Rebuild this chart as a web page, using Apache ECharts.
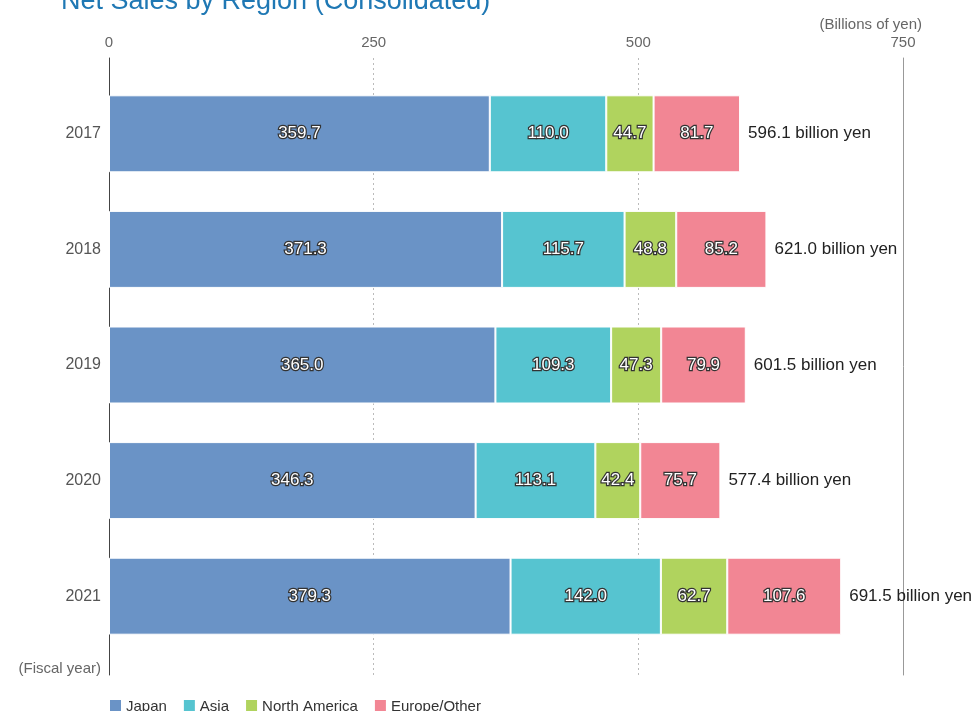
<!DOCTYPE html>
<html>
<head>
<meta charset="utf-8">
<script src="https://cdn.jsdelivr.net/npm/echarts@6/dist/echarts.min.js"></script>
<style>
html, body { margin: 0; padding: 0; background: #fff; }
#main { width: 979px; height: 711px; }
</style>
</head>
<body>
<div id="main"></div>
<script>
// data
var years = ['2017', '2018', '2019', '2020', '2021'];
var japan = [359.7, 371.3, 365.0, 346.3, 379.3];
var asia = [110.0, 115.7, 109.3, 113.1, 142.0];
var northAmerica = [44.7, 48.8, 47.3, 42.4, 62.7];
var europeOther = [81.7, 85.2, 79.9, 75.7, 107.6];
var totals = [596.1, 621.0, 601.5, 577.4, 691.5];
var xTicks = [0, 250, 500, 750];

var myChart = echarts.init(document.getElementById('main'));
var font = 'Liberation Sans';

var inLabel = {
	show: true,
	position: 'inside',
	color: '#fff',
	fontSize: 17,
	fontFamily: font,
	textBorderColor: '#333',
	textBorderWidth: 2.5,
	formatter: function(p) { return p.value.toFixed(1); }
};

function seg(name, data, color) {
	return {
		name: name,
		type: 'bar',
		stack: 'total',
		xAxisIndex: 1,
		yAxisIndex: 2,
		barWidth: 77,
		data: data,
		itemStyle: { color: color, borderColor: '#fff', borderWidth: 1 },
		label: inLabel
	};
}

var option = {
	animation: false,
	textStyle: { fontFamily: font },
	title: [
		{ text: 'Net Sales by Region (Consolidated)', left: 56, top: -17,
			textStyle: { color: '#1f78b4', fontSize: 27, fontWeight: 'normal', fontFamily: font } },
		{ text: '(Billions of yen)', right: 52, top: 12,
			textStyle: { color: '#666', fontSize: 15, fontWeight: 'normal', fontFamily: font } },
		{ text: '(Fiscal year)', right: 873, top: 656,
			textStyle: { color: '#666', fontSize: 15, fontWeight: 'normal', fontFamily: font } }
	],
	legend: {
		left: 105,
		top: 694,
		itemWidth: 11,
		itemHeight: 13,
		itemGap: 17,
		icon: 'rect',
		itemStyle: { borderWidth: 0 },
		textStyle: { color: '#333', fontSize: 15, fontFamily: font },
		data: ['Japan', 'Asia', 'North America', 'Europe/Other']
	},
	grid: [
		{ left: 109, right: 76, top: 58, bottom: 36 },
		{ left: 109, right: 76, top: 76, height: 578 }
	],
	xAxis: [
		{
			gridIndex: 0, type: 'value', position: 'top',
			min: xTicks[0], max: xTicks[xTicks.length - 1], interval: 250,
			axisLine: { show: false }, axisTick: { show: false },
			axisLabel: { color: '#666', fontSize: 15, margin: 8 },
			splitLine: { show: true, showMinLine: false, showMaxLine: false,
				lineStyle: { color: '#bbb', type: [2, 3] } }
		},
		{
			gridIndex: 1, type: 'value', min: 0, max: 750,
			show: false
		}
	],
	yAxis: [
		{
			gridIndex: 0, type: 'value', position: 'left',
			axisLine: { show: true, lineStyle: { color: '#444' } },
			axisTick: { show: false }, axisLabel: { show: false }, splitLine: { show: false }
		},
		{
			gridIndex: 0, type: 'value', position: 'right',
			axisLine: { show: true, lineStyle: { color: '#999' } },
			axisTick: { show: false }, axisLabel: { show: false }, splitLine: { show: false }
		},
		{
			gridIndex: 1, type: 'category', inverse: true, data: years,
			axisLine: { show: false }, axisTick: { show: false },
			axisLabel: { color: '#555', fontSize: 16, margin: 8 }
		}
	],
	series: [
		seg('Japan', japan, '#6a93c6'),
		seg('Asia', asia, '#56c4d0'),
		seg('North America', northAmerica, '#b0d35e'),
		seg('Europe/Other', europeOther, '#f28694'),
		{
			name: 'Total',
			type: 'bar',
			stack: 'total',
			xAxisIndex: 1,
			yAxisIndex: 2,
			barWidth: 77,
			data: totals.map(function() { return 0; }),
			itemStyle: { color: 'transparent' },
			label: {
				show: true,
				position: 'right',
				distance: 8,
				color: '#222',
				fontSize: 17,
				fontFamily: font,
				formatter: function(p) { return totals[p.dataIndex].toFixed(1) + ' billion yen'; }
			}
		}
	]
};

myChart.setOption(option);
</script>
</body>
</html>
